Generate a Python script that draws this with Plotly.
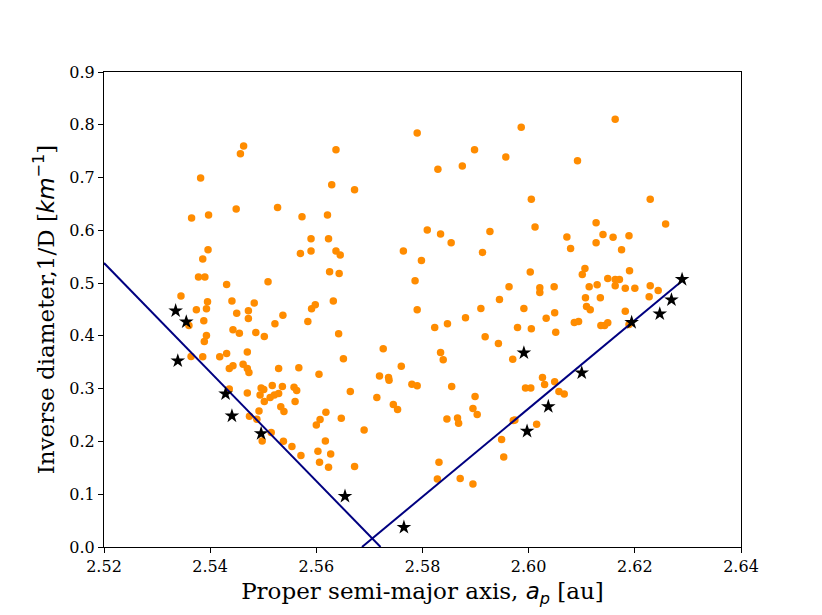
import plotly.graph_objects as go

# orange family members (proper a, 1/D)
a_fam = [
    2.5790, 2.5463, 2.5457, 2.5637, 2.5382, 2.5629, 2.5672, 2.5365, 2.5397, 2.5449,
    2.5527, 2.5573, 2.5621, 2.5809, 2.5590, 2.5623, 2.5396, 2.5386, 2.5570, 2.5590,
    2.5637, 2.5645, 2.5764, 2.5798, 2.5378, 2.5390, 2.5431, 2.5509, 2.5625, 2.5643,
    2.5786, 2.5345,
    2.5374, 2.5395, 2.5393, 2.5441, 2.5483, 2.5472, 2.5450, 2.5472, 2.5388, 2.5360,
    2.5537, 2.5522, 2.5591, 2.5598, 2.5584, 2.5632, 2.5790, 2.5443, 2.5455, 2.5486,
    2.5502, 2.5393, 2.5389, 2.5642, 2.5726, 2.5364, 2.5386, 2.5418, 2.5431, 2.5470,
    2.5651, 2.5436, 2.5443, 2.5462, 2.5470, 2.5473, 2.5529, 2.5567, 2.5605, 2.5760,
    2.5719, 2.5736, 2.5737, 2.5780, 2.5790, 2.5436, 2.5470, 2.5496, 2.5501, 2.5517,
    2.5536, 2.5558, 2.5563, 2.5494, 2.5513, 2.5521, 2.5529, 2.5502, 2.5560, 2.5664,
    2.5714, 2.5745, 2.5753, 2.5533, 2.5539, 2.5492, 2.5618, 2.5607, 2.5600, 2.5647,
    2.5474, 2.5488, 2.5515, 2.5498, 2.5538, 2.5554, 2.5571, 2.5603, 2.5617, 2.5627,
    2.5606, 2.5623, 2.5672, 2.5690,
    2.6163, 2.5986, 2.5898, 2.5957, 2.5875, 2.5829, 2.6092, 2.6005, 2.6229, 2.6258,
    2.5834, 2.5854, 2.5927, 2.5913, 2.6012, 2.6127, 2.6140, 2.6159, 2.6189, 2.6072,
    2.6079, 2.6127, 2.6175, 2.6003, 2.6106, 2.6101, 2.6190, 2.6149, 2.6163, 2.6171,
    2.5963, 2.6021, 2.6021, 2.6048, 2.6114, 2.6129, 2.6163, 2.6182, 2.6200, 2.6229,
    2.6244, 2.5945, 2.6107, 2.6135, 2.6227,
    2.5823, 2.5847, 2.5881, 2.5910, 2.5991, 2.5979, 2.6005, 2.6033, 2.6049, 2.6051,
    2.6086, 2.6094, 2.6109, 2.6116, 2.6136, 2.6149, 2.6143, 2.6182, 2.6189, 2.5918,
    2.5943, 2.5834, 2.5839, 2.5970, 2.5855, 2.5899, 2.5895, 2.5903, 2.5846, 2.5866,
    2.5868, 2.6026, 2.6030, 2.6049, 2.5994, 2.6004, 2.6057, 2.6067, 2.5971, 2.5974,
    2.6015, 2.5949, 2.5953, 2.5831, 2.5828, 2.5871, 2.5895,
]
inv_d_fam = [
    0.7844, 0.7598, 0.7452, 0.7527, 0.6991, 0.6864, 0.6769, 0.6233, 0.6289, 0.6403,
    0.6435, 0.6257, 0.6289, 0.6005, 0.5840, 0.5840, 0.5631, 0.5455, 0.5563, 0.5607,
    0.5607, 0.5531, 0.5607, 0.5430, 0.5114, 0.5114, 0.4975, 0.5025, 0.5214, 0.5184,
    0.5044, 0.4754,
    0.4494, 0.4645, 0.4513, 0.4659, 0.4621, 0.4475, 0.4431, 0.4331, 0.4285, 0.4198,
    0.4393, 0.4228, 0.4513, 0.4589, 0.4274, 0.4659, 0.4494, 0.4115, 0.4052, 0.4065,
    0.3989, 0.4008, 0.3895, 0.4039, 0.3754, 0.3610, 0.3603, 0.3603, 0.3667, 0.3697,
    0.3565, 0.3383, 0.3432, 0.3464, 0.3383, 0.3307, 0.3383, 0.3394, 0.3275, 0.3426,
    0.3242, 0.3212, 0.3161, 0.3085, 0.3053, 0.2996, 0.2920, 0.3015, 0.2984, 0.3060,
    0.3041, 0.3028, 0.2966, 0.2882, 0.2833, 0.2882, 0.2909, 0.2757, 0.2757, 0.2947,
    0.2833, 0.2700, 0.2605, 0.2655, 0.2567, 0.2579, 0.2554, 0.2416, 0.2313, 0.2440,
    0.2478, 0.2421, 0.2169, 0.2010, 0.2004, 0.1904, 0.1733, 0.1815, 0.2010, 0.1763,
    0.1606, 0.1511, 0.1524, 0.2218,
    0.8104, 0.7952, 0.7527, 0.7389, 0.7218, 0.7156, 0.7319, 0.6587, 0.6587, 0.6119,
    0.5929, 0.5764, 0.5980, 0.5582, 0.6062, 0.6143, 0.5923, 0.5867, 0.5897, 0.5872,
    0.5658, 0.5764, 0.5631, 0.5209, 0.5279, 0.5165, 0.5233, 0.5089, 0.5070, 0.5070,
    0.4930, 0.4911, 0.4824, 0.4930, 0.4930, 0.4968, 0.4949, 0.4905, 0.4905, 0.4949,
    0.4862, 0.4691, 0.4721, 0.4721, 0.4740,
    0.4160, 0.4228, 0.4342, 0.4520, 0.4520, 0.4160, 0.4134, 0.4336, 0.4437, 0.4071,
    0.4255, 0.4274, 0.4558, 0.4494, 0.4198, 0.4247, 0.4198, 0.4469, 0.4217, 0.3982,
    0.3857, 0.3686, 0.3546, 0.3559, 0.3041, 0.2852, 0.2624, 0.2510, 0.2427, 0.2446,
    0.2345, 0.3212, 0.3079, 0.3129, 0.3015, 0.3015, 0.2947, 0.2901, 0.2397, 0.2408,
    0.2327, 0.2036, 0.1706, 0.1606, 0.1289, 0.1297, 0.1195,
]

# black stars (edge objects)
a_star = [2.5335, 2.5355, 2.5339, 2.5429, 2.5441, 2.5496, 2.5654, 2.5765,
          2.5991, 2.5997, 2.6037, 2.6100, 2.6194, 2.6247, 2.6269, 2.6289]
inv_d_star = [0.4475, 0.4266, 0.3527, 0.2901, 0.2484, 0.2150, 0.0961, 0.0374,
              0.3678, 0.2194, 0.2662, 0.3299, 0.4255, 0.4418, 0.4683, 0.5070]

# V-shape borders
left_x = [2.5200, 2.5721]
left_y = [0.538, 0.0]
right_x = [2.5686, 2.6291]
right_y = [0.0, 0.5057]

x_ticks = [2.52, 2.54, 2.56, 2.58, 2.60, 2.62, 2.64]
y_ticks = [0.0, 0.1, 0.2, 0.3, 0.4, 0.5, 0.6, 0.7, 0.8, 0.9]

fig = go.Figure()
fig.add_trace(go.Scatter(x=a_fam, y=inv_d_fam, mode="markers",
                         marker=dict(color="#ff8c00", size=7.5, line=dict(width=0))))
fig.add_trace(go.Scatter(x=left_x, y=left_y, mode="lines",
                         line=dict(color="#000080", width=2)))
fig.add_trace(go.Scatter(x=right_x, y=right_y, mode="lines",
                         line=dict(color="#000080", width=2)))
fig.add_trace(go.Scatter(x=a_star, y=inv_d_star, mode="markers",
                         marker=dict(color="black", size=11, symbol="star", line=dict(width=0))))

axis_font = dict(family="DejaVu Serif", size=16, color="black")
fig.update_layout(
    width=814, height=607,
    margin=dict(l=96, r=81, t=64, b=68),
    plot_bgcolor="white", paper_bgcolor="white",
    showlegend=False,
    font=dict(family="DejaVu Serif", color="black"),
)
fig.update_xaxes(
    range=[2.52, 2.64], tickvals=x_ticks, ticktext=[f"{v:.2f}" for v in x_ticks],
    showgrid=False, zeroline=False, showline=True, mirror=True,
    linecolor="black", linewidth=1.2, ticks="outside", ticklen=5, tickcolor="black",
    tickfont=axis_font,
    title=dict(text="Proper semi-major axis, <span style='font-family:DejaVu Sans'><i>a<sub>p</sub></i></span> [au]",
               font=dict(family="DejaVu Serif", size=23), standoff=7),
)
fig.update_yaxes(
    range=[0, 0.9], tickvals=y_ticks, ticktext=[f"{v:.1f}" for v in y_ticks],
    showgrid=False, zeroline=False, showline=True, mirror=True,
    linecolor="black", linewidth=1.2, ticks="outside", ticklen=5, tickcolor="black",
    tickfont=axis_font,
    title=dict(text="Inverse diameter,1/D [<span style='font-family:DejaVu Sans'><i>km</i><sup>−1</sup></span>]",
               font=dict(family="DejaVu Serif", size=23), standoff=8),
)

fig.write_html("out.html")
